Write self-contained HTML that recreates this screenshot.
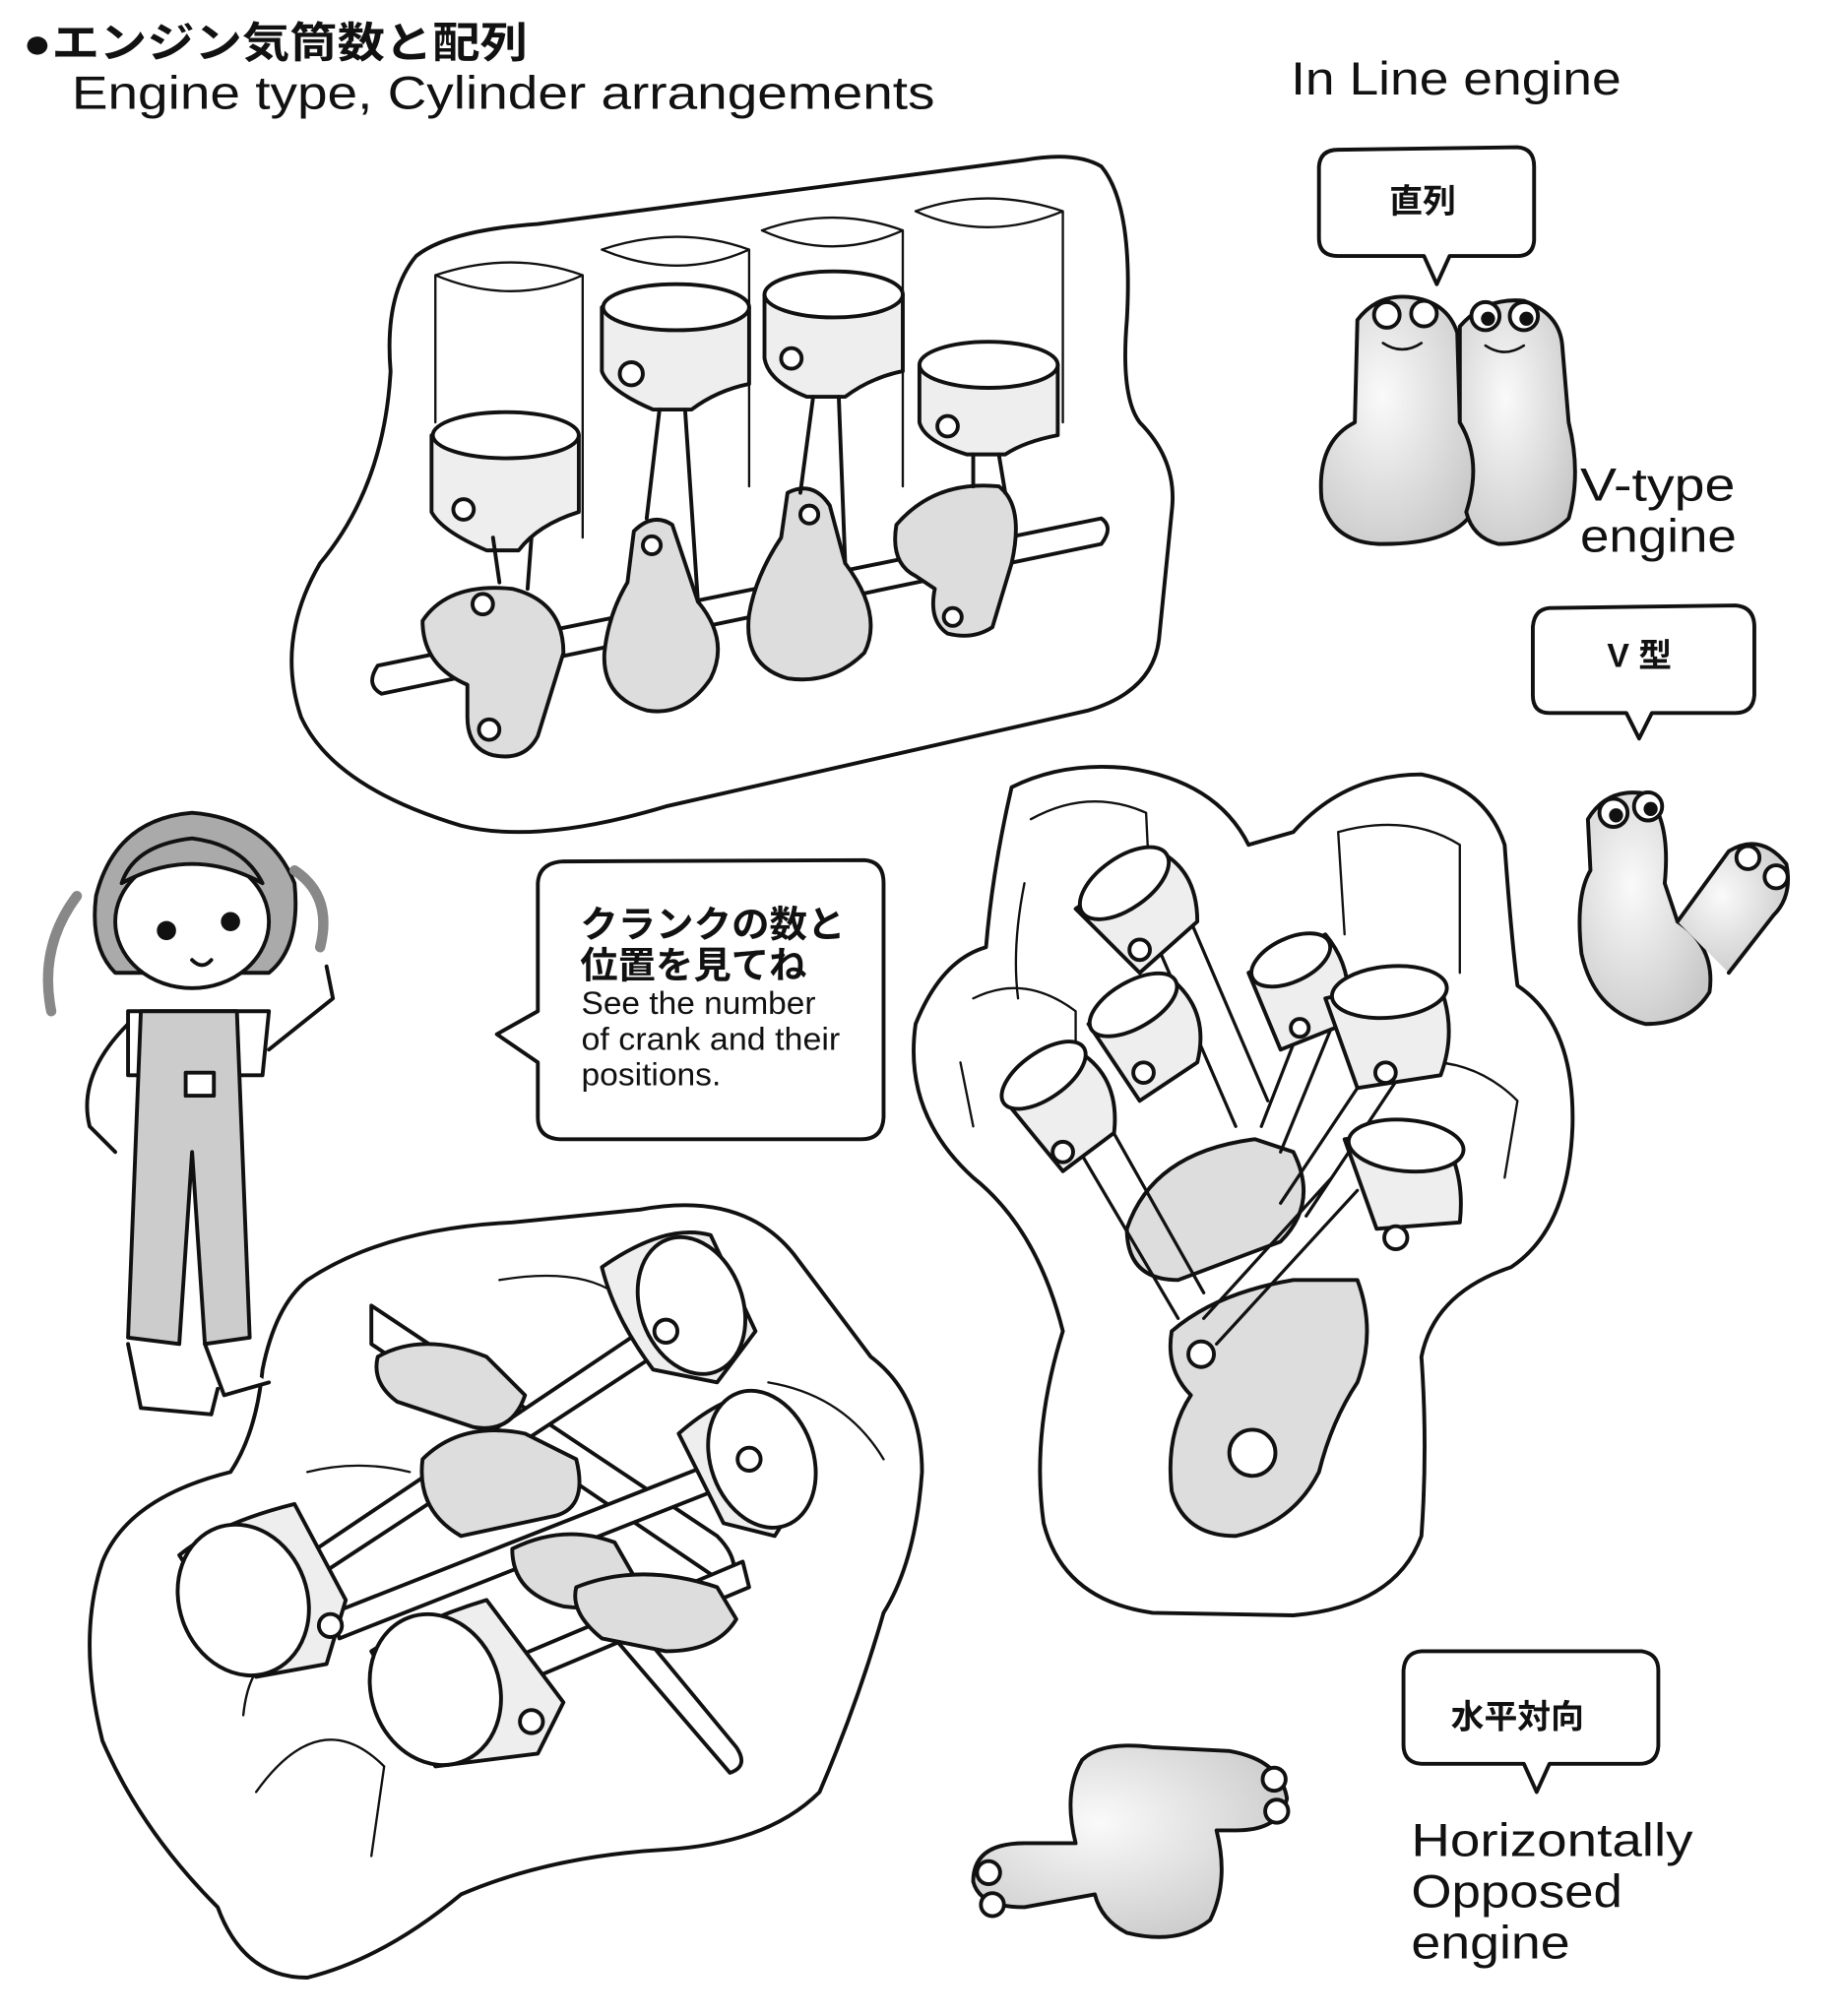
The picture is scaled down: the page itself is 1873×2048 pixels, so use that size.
<!DOCTYPE html>
<html><head><meta charset="utf-8"><style>
html,body{margin:0;padding:0;background:#fff;}
svg{display:block;}
text{font-family:"Liberation Sans","Noto Sans CJK JP",sans-serif;fill:#111;}
</style></head><body>
<svg width="1873" height="2048" viewBox="0 0 1440 1575" preserveAspectRatio="none" xmlns="http://www.w3.org/2000/svg">
<defs>
<radialGradient id="g1" cx="0.4" cy="0.4" r="0.7"><stop offset="0" stop-color="#fafafa"/><stop offset="1" stop-color="#c8c8c8"/></radialGradient>
</defs>
<g stroke="#111" stroke-width="3" fill="none" stroke-linejoin="round" stroke-linecap="round">
<!-- titles -->
<text x="18" y="45" font-size="33" font-weight="bold" stroke="none" textLength="394" lengthAdjust="spacingAndGlyphs">●エンジン気筒数と配列</text>
<text x="56" y="85" font-size="36" stroke="none" textLength="674" lengthAdjust="spacingAndGlyphs">Engine type, Cylinder arrangements</text>
<text x="1008" y="74" font-size="36" stroke="none" textLength="258" lengthAdjust="spacingAndGlyphs">In Line engine</text>
<text x="1234" y="391" font-size="36" stroke="none" textLength="121" lengthAdjust="spacingAndGlyphs">V-type</text>
<text x="1234" y="431" font-size="36" stroke="none" textLength="122" lengthAdjust="spacingAndGlyphs">engine</text>
<text x="1102" y="1450" font-size="36" stroke="none" textLength="220" lengthAdjust="spacingAndGlyphs">Horizontally</text>
<text x="1102" y="1490" font-size="36" stroke="none" textLength="165" lengthAdjust="spacingAndGlyphs">Opposed</text>
<text x="1102" y="1530" font-size="36" stroke="none" textLength="124" lengthAdjust="spacingAndGlyphs">engine</text>

<!-- bubbles -->
<path d="M1045,117 L1185,115 Q1198,116 1198,130 L1198,188 Q1197,200 1185,200 L1132,200 L1122,222 L1112,200 L1045,200 Q1030,200 1030,186 L1030,130 Q1031,117 1045,117Z" fill="#fff"/>
<text x="1085" y="166" font-size="26" stroke="none" font-weight="bold">直列</text>
<path d="M1210,475 L1355,473 Q1370,474 1370,490 L1370,543 Q1369,557 1355,557 L1290,557 L1280,577 L1270,557 L1210,557 Q1197,557 1197,543 L1197,490 Q1198,476 1210,475Z" fill="#fff"/>
<text x="1255" y="521" font-size="26" stroke="none" font-weight="bold">V 型</text>
<path d="M1110,1290 L1282,1290 Q1295,1292 1295,1305 L1295,1364 Q1294,1378 1280,1378 L1210,1378 L1200,1400 L1190,1378 L1110,1378 Q1096,1377 1096,1363 L1096,1305 Q1097,1291 1110,1290Z" fill="#fff"/>
<text x="1133" y="1350" font-size="26" stroke="none" font-weight="bold">水平対向</text>
<path d="M440,673 L675,672 Q690,673 690,690 L690,873 Q689,890 673,890 L437,890 Q420,889 420,873 L420,830 L388,808 L420,790 L420,690 Q421,674 440,673Z" fill="#fff"/>
<text x="453" y="732" font-size="29" font-weight="bold" stroke="none" textLength="207" lengthAdjust="spacingAndGlyphs">クランクの数と</text>
<text x="453" y="764" font-size="29" font-weight="bold" stroke="none" textLength="177" lengthAdjust="spacingAndGlyphs">位置を見てね</text>
<text x="454" y="792" font-size="25" stroke="none" textLength="183" lengthAdjust="spacingAndGlyphs">See the number</text>
<text x="454" y="820" font-size="25" stroke="none" textLength="202" lengthAdjust="spacingAndGlyphs">of crank and their</text>
<text x="454" y="848" font-size="25" stroke="none" textLength="109" lengthAdjust="spacingAndGlyphs">positions.</text>

<!-- inline engine blob -->
<path d="M325,200 Q300,230 305,290 Q300,380 250,440 Q215,500 235,560 Q260,615 360,645 Q420,660 520,630 L850,555 Q900,540 905,500 L915,400 Q920,360 890,330 Q875,310 880,250 Q885,160 860,130 Q840,118 800,125 L420,175 Q350,180 325,200Z" fill="#fff"/>
<g stroke-width="1.8">
<path d="M340,215 Q400,195 455,215 L455,420 M340,215 L340,330 M340,215 Q400,240 455,215"/>
<path d="M470,195 Q530,175 585,195 L585,380 M470,195 Q530,220 585,195"/>
<path d="M595,180 Q650,160 705,180 L705,380 M595,180 Q650,205 705,180"/>
<path d="M715,165 Q770,145 830,165 L830,330 M715,165 Q770,190 830,165"/>
</g>
<path d="M295,520 L860,405 Q870,412 860,425 L298,542 Q285,535 295,520Z" fill="#fff"/>
<path d="M330,485 Q350,455 400,460 Q440,470 440,510 L420,575 Q410,595 385,590 Q365,585 365,560 L365,535 Q330,520 330,485Z" fill="#ddd"/>
<path d="M495,415 Q510,400 525,410 L545,470 Q570,500 555,530 Q535,560 505,555 Q470,545 472,510 Q475,480 490,455Z" fill="#ddd"/>
<path d="M615,385 Q635,375 648,395 L660,440 Q690,480 675,510 Q650,535 615,530 Q580,520 585,480 Q590,450 610,420Z" fill="#ddd"/>
<path d="M700,410 Q730,375 780,380 Q800,395 790,440 L775,490 Q760,500 740,495 Q725,485 730,460 L715,450 Q695,440 700,410Z" fill="#ddd"/>
<g fill="#fff"><circle cx="377" cy="472" r="8"/><circle cx="382" cy="570" r="8"/><circle cx="509" cy="426" r="7"/><circle cx="632" cy="402" r="7"/><circle cx="744" cy="482" r="7"/></g>
<g fill="#eee">
<path d="M337,340 Q395,315 452,340 L452,400 Q420,410 405,430 L380,430 Q345,415 337,400Z"/>
<path d="M470,240 Q530,215 585,240 L585,300 Q560,305 540,320 L510,320 Q475,305 470,290Z"/>
<path d="M597,230 Q650,205 705,230 L705,290 Q680,295 660,310 L630,310 Q600,298 597,280Z"/>
<path d="M718,285 Q770,260 826,285 L826,340 Q800,345 785,355 L755,355 Q722,345 718,330Z"/>
</g>
<g fill="#fff"><ellipse cx="395" cy="340" rx="57" ry="18"/><ellipse cx="528" cy="240" rx="57" ry="18"/><ellipse cx="651" cy="230" rx="54" ry="18"/><ellipse cx="772" cy="285" rx="54" ry="18"/>
<circle cx="362" cy="398" r="8"/><circle cx="493" cy="292" r="9"/><circle cx="618" cy="280" r="8"/><circle cx="740" cy="333" r="8"/></g>
<path d="M385,420 L390,455 M415,420 L412,460 M515,320 L505,405 M535,320 L545,470 M635,310 L625,385 M655,310 L660,440 M760,355 L760,380 M780,355 L785,385"/>

<!-- V blob -->
<path d="M790,615 Q830,595 880,600 Q950,610 975,660 L1010,650 Q1050,605 1110,605 Q1160,615 1175,660 Q1180,730 1185,770 Q1230,800 1228,880 Q1225,960 1180,990 Q1120,1010 1110,1060 Q1115,1130 1110,1200 Q1090,1255 1010,1262 L900,1260 Q830,1250 815,1190 Q805,1120 830,1040 Q810,960 760,920 Q705,870 715,800 Q735,750 770,740 Q775,680 790,615Z" fill="#fff"/>
<g stroke-width="1.8">
<path d="M805,640 Q850,615 895,635 L900,740 M800,690 Q790,740 795,780"/>
<path d="M1045,650 Q1100,635 1140,660 L1140,760 M1045,650 L1050,730"/>
<path d="M760,780 Q800,760 840,790 L840,860 M750,830 L760,880"/>
<path d="M1100,830 Q1150,825 1185,860 L1175,920"/>
</g>
<path d="M915,1040 Q950,1010 1010,1000 L1060,1000 Q1075,1040 1060,1080 Q1040,1110 1030,1150 Q1010,1190 965,1200 Q925,1200 915,1165 Q910,1120 930,1090 Q910,1070 915,1040Z" fill="#ddd"/>
<circle cx="938" cy="1058" r="10" fill="#fff"/><circle cx="978" cy="1135" r="18" fill="#fff"/>
<path d="M880,960 Q900,900 980,890 L1010,900 Q1030,940 1000,970 L920,1000 Q880,1000 880,960Z" fill="#ddd"/>
<path d="M900,730 L965,880 M930,720 L990,860 M820,860 L920,1030 M850,850 L940,1010 M1020,790 L985,880 M1045,790 L1000,900 M1040,920 L940,1030 M1060,930 L950,1050 M1080,820 L1000,940 M1100,830 L1020,950" stroke-width="2.5"/>
<g fill="#eee">
<path d="M840,710 L905,665 Q935,680 935,720 L890,760 Z"/>
<path d="M850,800 L915,765 Q945,790 935,830 L890,860 Z"/>
<path d="M785,860 L840,820 Q875,840 870,885 L830,915 Z"/>
<path d="M975,760 L1035,730 Q1060,760 1050,800 L1000,820Z"/>
<path d="M1035,780 L1120,760 Q1140,800 1125,840 L1060,850Z"/>
<path d="M1050,890 L1120,880 Q1145,910 1140,955 L1075,960Z"/>
</g>
<g fill="#fff"><ellipse cx="878" cy="690" rx="40" ry="20" transform="rotate(-35 878 690)"/><ellipse cx="885" cy="785" rx="38" ry="18" transform="rotate(-30 885 785)"/><ellipse cx="815" cy="840" rx="38" ry="18" transform="rotate(-35 815 840)"/><ellipse cx="1008" cy="750" rx="33" ry="17" transform="rotate(-25 1008 750)"/><ellipse cx="1085" cy="775" rx="45" ry="20" transform="rotate(-5 1085 775)"/><ellipse cx="1098" cy="895" rx="45" ry="20" transform="rotate(5 1098 895)"/>
<circle cx="890" cy="742" r="8"/><circle cx="893" cy="838" r="8"/><circle cx="830" cy="900" r="8"/><circle cx="1015" cy="803" r="7"/><circle cx="1082" cy="838" r="8"/><circle cx="1090" cy="967" r="9"/></g>

<!-- flat blob -->
<path d="M240,1000 Q300,960 400,955 L500,945 Q580,930 620,980 Q650,1020 680,1060 Q720,1090 720,1150 Q715,1220 690,1260 Q670,1330 640,1400 Q600,1440 520,1445 Q430,1450 360,1480 Q300,1530 240,1545 Q190,1545 170,1490 Q110,1430 80,1360 Q60,1280 80,1220 Q100,1170 180,1150 Q200,1120 205,1070 Q215,1020 240,1000Z" fill="#fff"/>
<g stroke-width="1.8">
<path d="M200,1400 Q250,1330 300,1380 L290,1450 M190,1340 Q195,1290 230,1290"/>
<path d="M390,1000 Q450,990 480,1010 M600,1080 Q660,1090 690,1140 M240,1150 Q280,1140 320,1150"/>
</g>
<path d="M290,1020 L560,1200 Q580,1220 570,1240 L290,1050Z" fill="#fff"/>
<path d="M480,1250 L575,1365 Q585,1380 570,1385 L480,1280Z" fill="#fff"/>
<path d="M210,1235 L530,1020 L540,1040 L220,1250Z" fill="#fff"/>
<path d="M260,1260 L590,1130 L595,1150 L265,1280Z" fill="#fff"/>
<path d="M390,1300 L580,1220 L585,1240 L395,1320Z" fill="#fff"/>
<g fill="#ddd">
<path d="M295,1060 Q330,1040 380,1060 L410,1090 Q400,1120 370,1115 L310,1095 Q290,1080 295,1060Z"/>
<path d="M330,1140 Q360,1110 410,1120 L450,1140 Q460,1180 430,1185 L360,1200 Q325,1180 330,1140Z"/>
<path d="M400,1210 Q440,1190 480,1205 L500,1240 Q480,1260 440,1255 Q400,1245 400,1210Z"/>
<path d="M450,1240 Q500,1220 560,1240 L575,1265 Q560,1290 520,1290 L470,1280 Q445,1260 450,1240Z"/>
</g>
<g fill="#eee">
<path d="M470,990 Q520,955 555,965 L590,1040 L560,1080 L510,1070 Q480,1030 470,990Z"/>
<path d="M530,1120 Q570,1085 600,1090 L630,1160 L605,1200 L565,1190Z"/>
<path d="M140,1215 Q170,1190 230,1175 L270,1250 L255,1300 L200,1310Z"/>
<path d="M290,1290 Q330,1265 380,1250 L440,1330 L420,1370 L340,1380Z"/>
</g>
<g fill="#fff"><ellipse cx="190" cy="1250" rx="50" ry="60" transform="rotate(-20 190 1250)"/><ellipse cx="340" cy="1320" rx="50" ry="60" transform="rotate(-20 340 1320)"/><ellipse cx="540" cy="1020" rx="40" ry="55" transform="rotate(-20 540 1020)"/><ellipse cx="595" cy="1140" rx="40" ry="55" transform="rotate(-20 595 1140)"/>
<circle cx="258" cy="1270" r="9"/><circle cx="415" cy="1345" r="9"/><circle cx="520" cy="1040" r="9"/><circle cx="585" cy="1140" r="9"/></g>

<!-- girl -->
<path d="M75,700 Q90,640 150,635 Q210,640 230,690 Q235,740 210,760 L90,760 Q70,740 75,700Z" fill="#aaa"/>
<path d="M60,700 Q30,740 40,790 M230,680 Q260,700 250,740" stroke-width="8" stroke="#888"/>
<ellipse cx="150" cy="720" rx="60" ry="52" fill="#fff"/>
<path d="M95,690 Q150,660 205,690 Q190,660 150,655 Q105,660 95,690Z" fill="#aaa"/>
<circle cx="130" cy="727" r="6" fill="#111"/><circle cx="180" cy="720" r="6" fill="#111"/>
<path d="M150,750 Q158,758 165,750"/>
<path d="M100,790 L210,790 L205,840 L100,840Z" fill="#fff"/>
<path d="M110,790 L100,1045 L140,1050 L150,900 L160,1050 L195,1045 L185,790 Z" fill="#ccc"/>
<rect x="145" y="838" width="22" height="18" fill="#fff"/>
<path d="M210,820 L260,780 L255,755 M100,800 Q60,840 70,880 L90,900"/>
<path d="M100,1050 L110,1100 L165,1105 L170,1085 M160,1050 L175,1090 L210,1080" fill="#fff"/>

<!-- inline characters -->
<path d="M1060,250 Q1075,230 1100,232 Q1130,235 1138,260 L1140,330 Q1158,360 1150,400 Q1135,425 1080,425 Q1040,425 1032,390 Q1028,345 1058,330Z" fill="url(#g1)"/>
<path d="M1140,255 Q1160,232 1190,235 Q1218,245 1220,270 L1225,330 Q1235,370 1225,405 Q1205,425 1170,425 Q1150,420 1145,400 Q1158,360 1140,330Z" fill="url(#g1)"/>
<circle cx="1083" cy="246" r="10" fill="#fff"/><circle cx="1112" cy="245" r="10" fill="#fff"/>
<circle cx="1160" cy="247" r="11" fill="#fff"/><circle cx="1190" cy="247" r="11" fill="#fff"/><circle cx="1162" cy="249" r="4" fill="#111"/><circle cx="1192" cy="249" r="4" fill="#111"/>
<path d="M1080,268 Q1095,278 1110,268 M1160,270 Q1175,280 1190,270" stroke-width="2"/>
<!-- V characters -->
<path d="M1240,640 Q1255,615 1285,620 Q1305,640 1300,690 L1310,720 Q1340,740 1335,775 Q1320,800 1285,800 Q1245,790 1235,745 Q1230,700 1242,680Z" fill="url(#g1)"/>
<path d="M1310,720 L1350,665 Q1375,650 1395,675 Q1400,700 1385,715 L1350,760" fill="url(#g1)"/>
<circle cx="1260" cy="635" r="11" fill="#fff"/><circle cx="1287" cy="630" r="11" fill="#fff"/><circle cx="1262" cy="637" r="4" fill="#111"/><circle cx="1289" cy="632" r="4" fill="#111"/>
<circle cx="1365" cy="670" r="9" fill="#fff"/><circle cx="1387" cy="685" r="9" fill="#fff"/>
<!-- flat characters -->
<path d="M845,1375 Q860,1360 900,1365 L960,1368 Q1000,1375 1005,1405 Q1000,1430 965,1430 L950,1430 Q960,1470 945,1500 Q920,1520 880,1510 Q860,1500 855,1480 L800,1490 Q765,1490 760,1470 Q760,1440 800,1440 L840,1440 Q830,1400 845,1375Z" fill="url(#g1)"/>
<circle cx="995" cy="1390" r="9" fill="#fff"/><circle cx="997" cy="1415" r="9" fill="#fff"/>
<circle cx="772" cy="1463" r="9" fill="#fff"/><circle cx="775" cy="1488" r="9" fill="#fff"/>
</g>
</svg>
</body></html>
